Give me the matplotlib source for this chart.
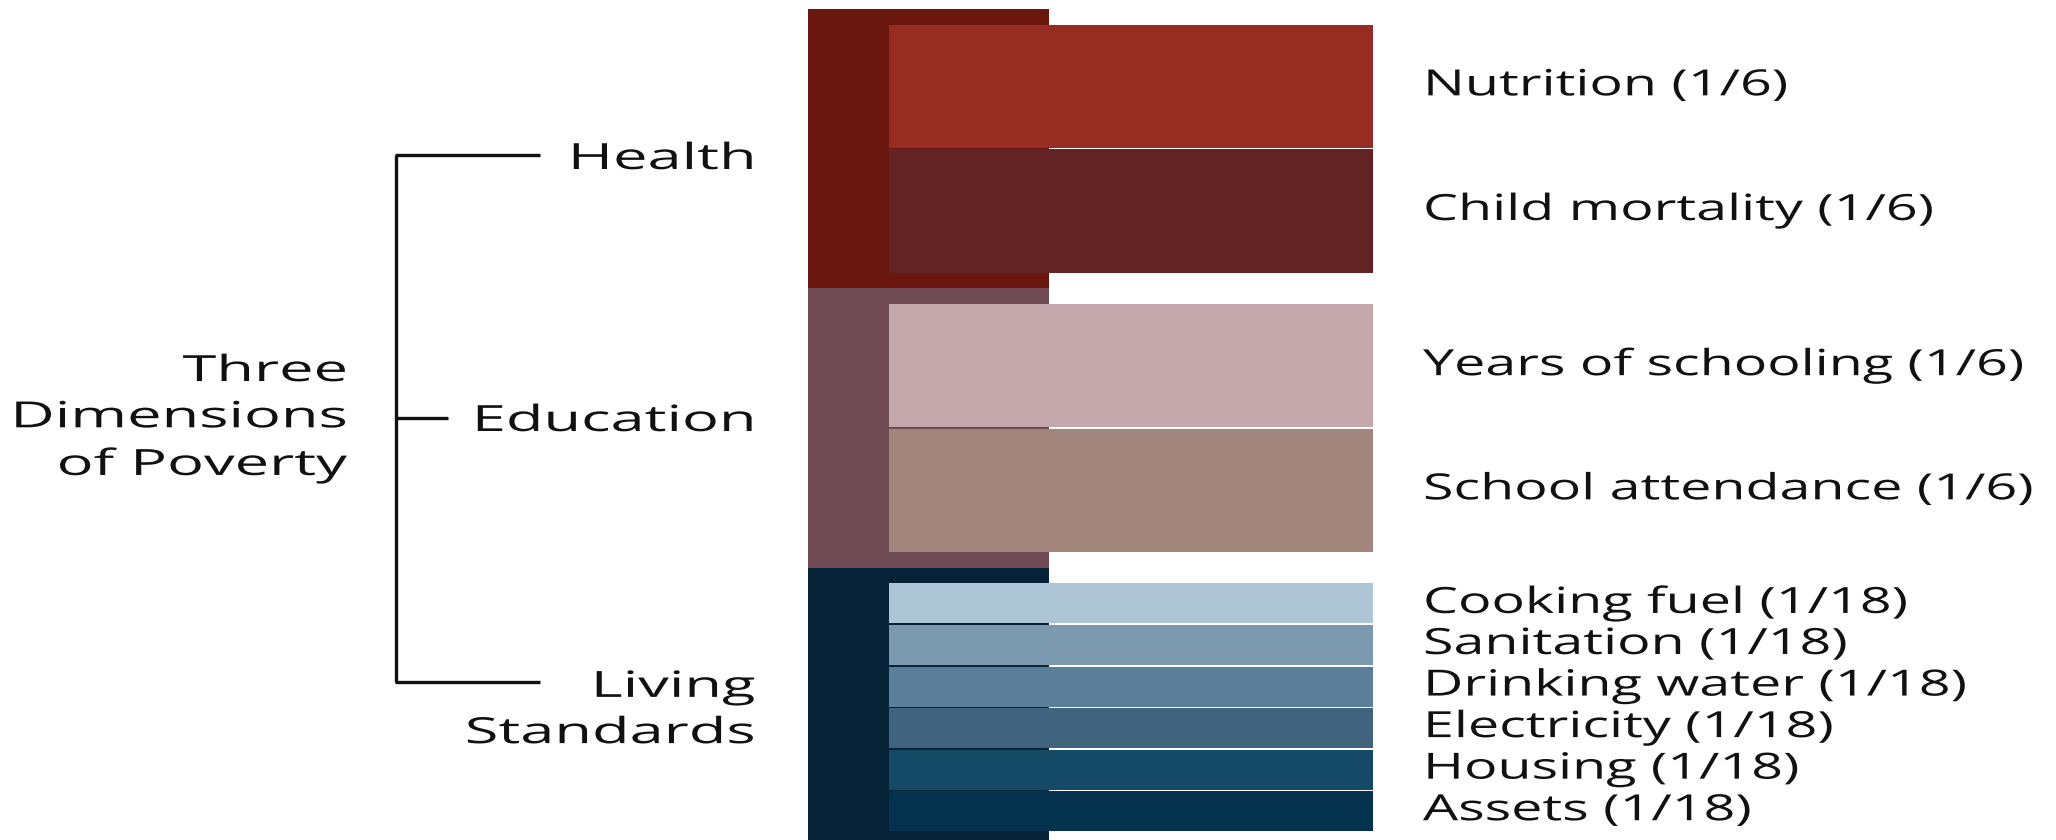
import matplotlib
matplotlib.use("Agg")
import matplotlib.pyplot as plt
from matplotlib.patheffects import AbstractPathEffect
from matplotlib.transforms import Affine2D

plt.rcParams['font.family'] = ['Open Sans', 'DejaVu Sans']

# ---- data ----
dimensions = ["Health", "Education", "Living\nStandards"]
dimension_colors = ["#6a1710", "#704a52", "#052236"]
indicators = [
    ["Nutrition", "Child mortality"],
    ["Years of schooling", "School attendance"],
    ["Cooking fuel", "Sanitation", "Drinking water", "Electricity", "Housing", "Assets"],
]
weight_labels = [
    ["1/6", "1/6"],
    ["1/6", "1/6"],
    ["1/18"] * 6,
]
weights = [
    [1 / 6, 1 / 6],
    [1 / 6, 1 / 6],
    [1 / 18] * 6,
]
indicator_colors = [
    ["#962c22", "#632325"],
    ["#c3a7aa", "#a2857c"],
    ["#adc5d5", "#7b9ab0", "#5b7f98", "#40647d", "#154a67", "#04324f"],
]
title_text = "Three\nDimensions\nof Poverty"


class StretchX(AbstractPathEffect):
    """Widen glyphs horizontally (the source artwork uses wide lettering)."""

    def __init__(self, sx, align="left"):
        super().__init__()
        self.sx = sx
        self.align = align

    def draw_path(self, renderer, gc, tpath, affine, rgbFace=None):
        x0 = 0.0
        if self.align == "right" and len(tpath.vertices):
            x0 = float(tpath.vertices[:, 0].max())
        t = Affine2D().translate(-x0, 0).scale(self.sx, 1.0).translate(x0, 0)
        renderer.draw_path(gc, tpath, t + affine, rgbFace)


# ---- layout ----
W, H = 2056, 840
S = 748.0            # pixels per unit of weight
PX = 1.0 / S
top_px = 9
pad = 15 * PX
gap = 1.5 * PX

fig = plt.figure(figsize=(W / 100, H / 100), dpi=100)
ax = fig.add_axes([0, 0, 1, 1])
ax.set_xlim(0, W)
ax.set_ylim((H - top_px) * PX, -top_px * PX)
ax.axis("off")

back_left, back_right = 808, 1049
front_left, front_right = 889, 1373
label_x = 1423
fs = 26
ink = "#111111"

y = 0.0
for g, (names, ws, wl, cols) in enumerate(zip(indicators, weights, weight_labels, indicator_colors)):
    gh = sum(ws) + 2 * pad
    ax.barh(y + gh / 2, back_right - back_left, height=gh, left=back_left,
            color=dimension_colors[g], edgecolor="none", zorder=1)
    yy = y + pad
    for n, w, lab, c in zip(names, ws, wl, cols):
        ax.barh(yy + w / 2, front_right - front_left, height=w - gap, left=front_left,
                color=c, edgecolor="none", zorder=2)
        ax.text(label_x, yy + w / 2, f"{n} ({lab})", fontsize=fs, va="center",
                ha="left", color=ink, path_effects=[StretchX(1.54, "left")])
        yy += w
    y += gh

# bracket and dimension labels
off = top_px * PX
head_y = [160 * PX - off, 422 * PX - off, 711 * PX - off]
tick_y = [155 * PX - off, 418 * PX - off, 682 * PX - off]
tick_end = [540, 448, 540]
bx = 396
ax.plot([bx, bx], [tick_y[0], tick_y[-1]], color=ink, lw=2.4, solid_capstyle="butt")
for ty, te in zip(tick_y, tick_end):
    ax.plot([bx - 1.2, te], [ty, ty], color=ink, lw=2.4, solid_capstyle="butt")
for name, hy in zip(dimensions, head_y):
    ax.text(755, hy, name, fontsize=fs, ha="right", va="center", color=ink,
            linespacing=1.38, path_effects=[StretchX(1.70, "right")])

ax.text(347, 419 * PX - off, title_text, fontsize=fs, ha="right", va="center",
        color=ink, linespacing=1.38, path_effects=[StretchX(1.70, "right")])

fig.savefig("out.png", dpi=100, facecolor="white")
